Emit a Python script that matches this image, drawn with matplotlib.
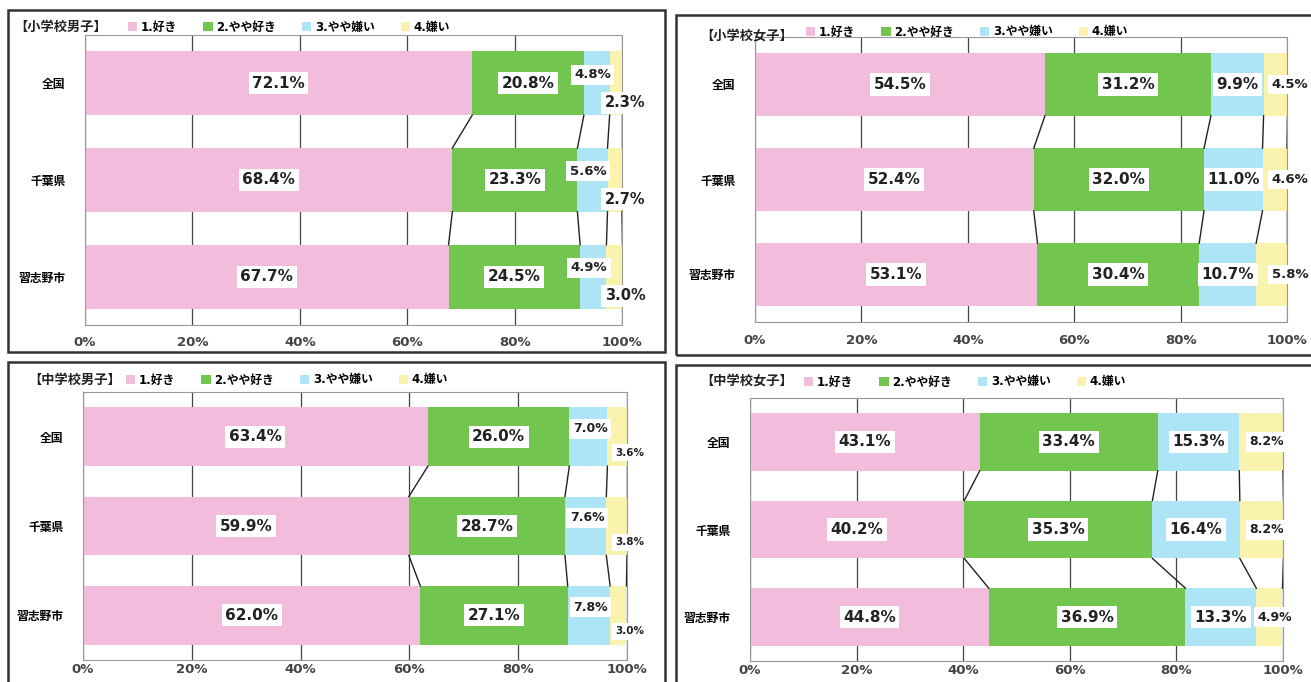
import matplotlib
matplotlib.use("Agg")
import matplotlib.pyplot as plt
from matplotlib.patches import Rectangle
import numpy as np

plt.rcParams['font.family'] = ['DejaVu Sans', 'Noto Sans CJK JP']
plt.rcParams['font.weight'] = 'bold'

# 地域と回答区分
categories = ['全国', '千葉県', '習志野市']
answers = ['1.好き', '2.やや好き', '3.やや嫌い', '4.嫌い']
titles = ['【小学校男子】', '【小学校女子】', '【中学校男子】', '【中学校女子】']

# 各地域の回答割合 (%) : 全国, 千葉県, 習志野市
elem_boys = [[72.1, 20.8, 4.8, 2.3],
             [68.4, 23.3, 5.6, 2.7],
             [67.7, 24.5, 4.9, 3.0]]
elem_girls = [[54.5, 31.2, 9.9, 4.5],
              [52.4, 32.0, 11.0, 4.6],
              [53.1, 30.4, 10.7, 5.8]]
mid_boys = [[63.4, 26.0, 7.0, 3.6],
            [59.9, 28.7, 7.6, 3.8],
            [62.0, 27.1, 7.8, 3.0]]
mid_girls = [[43.1, 33.4, 15.3, 8.2],
             [40.2, 35.3, 16.4, 8.2],
             [44.8, 36.9, 13.3, 4.9]]

colors = ['#F2BCDD', '#72C54E', '#AEE5F6', '#FAF3AE']

W, H = 1311, 682
fig = plt.figure(figsize=(W / 100, H / 100), dpi=100)


def fx(x):
    return x / W


def fy(y):
    return 1 - y / H


# 小さい区分のラベル位置ずらし: (区分, dx[%], dy[棒単位], 文字サイズ)
shift_boys_elem = {2: (-0.8, -0.09, 9.5), 3: (None, 0.2, 10.5)}
shift_girls_elem = {3: (None, 0.0, 9.5)}
shift_boys_mid = {2: (0.3, -0.09, 9.0), 3: (None, 0.18, 7.5)}
shift_girls_mid = {3: (1.0, 0.0, 9.0)}

panels = [
    (elem_boys, titles[0], (85, 622, 35, 325), (8, 665, 10, 352), (14, 27), (128, 27), shift_boys_elem, 8),
    (elem_girls, titles[1], (755, 1287, 37, 322), (676, 1330, 15, 355), (700, 37), (806, 32), shift_girls_elem, 9),
    (mid_boys, titles[2], (83, 627, 392, 660), (8, 665, 362, 700), (28, 380), (126, 380), shift_boys_mid, 2.5),
    (mid_girls, titles[3], (750, 1283, 398, 661), (676, 1330, 365, 700), (700, 382), (804, 382), shift_girls_mid, 2),
]

bar_h = 0.66

for data, title, (x0, x1, y0, y1), (bx0, bx1, by0, by1), tpos, lpos, shifts, tpad in panels:
    # 外枠
    fig.add_artist(Rectangle((fx(bx0), fy(by1)), fx(bx1 - bx0), (by1 - by0) / H,
                             transform=fig.transFigure, fill=False,
                             ec='#333333', lw=1.8))

    ax = fig.add_axes([fx(x0), fy(y1), fx(x1 - x0), (y1 - y0) / H])
    vals = np.array(data)
    ypos = np.arange(len(categories))
    left = np.zeros(len(categories))
    bars = []
    for k in range(vals.shape[1]):
        b = ax.barh(ypos, vals[:, k], left=left, height=bar_h,
                    color=colors[k], edgecolor='none', zorder=2, label=answers[k])
        bars.append(b)
        left = left + vals[:, k]

    # 区分線 (隣り合う棒の境界を結ぶ)
    cum = np.cumsum(vals, axis=1)
    for i in range(len(categories) - 1):
        for k in range(vals.shape[1]):
            ax.plot([cum[i, k], cum[i + 1, k]],
                    [ypos[i] + bar_h / 2, ypos[i + 1] - bar_h / 2],
                    color='#222222', lw=1.0, zorder=3)

    # 値ラベル
    starts = cum - vals
    for i in range(len(categories)):
        for k in range(vals.shape[1]):
            cx = starts[i, k] + vals[i, k] / 2
            cy = ypos[i]
            size = 11
            if k in shifts:
                dx, dy, size = shifts[k]
                cx = 100.6 if dx is None else cx + dx
                cy = cy + dy
            ax.text(cx, cy, f'{vals[i, k]:.1f}%', ha='center', va='center',
                    fontsize=size, fontweight='bold', color='#222222', zorder=5,
                    bbox=dict(facecolor='white', edgecolor='none', pad=2.5))

    ax.set_xlim(0, 100)
    ax.set_ylim(len(categories) - 0.5, -0.5)
    ax.set_xticks(np.arange(0, 101, 20))
    ax.set_xticklabels([f'{t}%' for t in range(0, 101, 20)])
    ax.set_yticks(ypos)
    ax.set_yticklabels(categories, fontsize=8.5, fontweight='bold')
    ax.tick_params(axis='x', length=0, pad=tpad, labelsize=9.5, labelcolor='#444444')
    ax.tick_params(axis='y', length=0, pad=14)
    ax.xaxis.grid(True, color='#444444', lw=0.9, zorder=0)
    ax.set_axisbelow(True)
    for s in ax.spines.values():
        s.set_color('#999999')
        s.set_linewidth(0.8)

    fig.text(fx(tpos[0]), fy(tpos[1]), title, fontsize=9.5, fontweight='bold',
             va='center', ha='left', color='#222222')
    fig.legend(handles=bars, labels=answers, loc='center left',
               bbox_to_anchor=(fx(lpos[0]), fy(lpos[1])),
               bbox_transform=fig.transFigure, ncol=4, frameon=False,
               handlelength=0.8, handleheight=0.8,
               handletextpad=0.3, columnspacing=2.2, borderpad=0,
               borderaxespad=0, prop={'weight': 'bold', 'size': 8.5})

fig.savefig('out.png', dpi=100, facecolor='white')
